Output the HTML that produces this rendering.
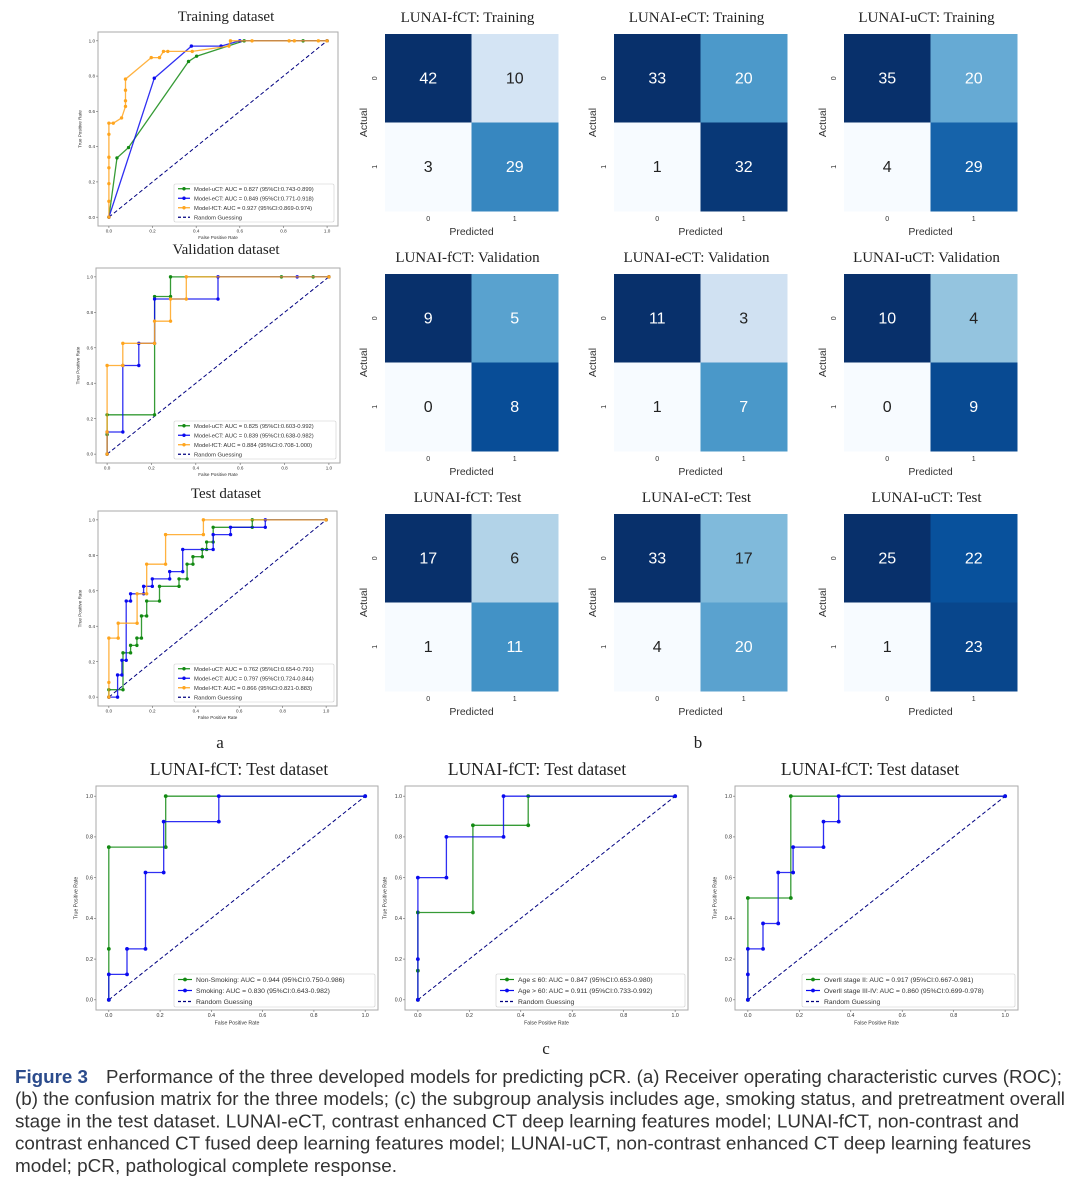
<!DOCTYPE html>
<html><head><meta charset="utf-8">
<style>
html,body{margin:0;padding:0;background:#fff;}
svg{display:block;}
</style></head>
<body>
<svg id="fig" width="1080" height="1186" viewBox="0 0 1080 1186" xmlns="http://www.w3.org/2000/svg" font-family="Liberation Sans, sans-serif"></svg>
<script>
// ---------- ROC data ----------
const trainUct_x=[0,0.037,0.09,0.365,0.402,0.62,0.89,1];
const trainUct_y=[0,0.336,0.395,0.883,0.913,1,1,1];
const trainEct_x=[0,0.208,0.378,0.514,0.60,1];
const trainEct_y=[0,0.788,0.97,0.97,1,1];
const trainFct_x=[0,0,0,0,0,0,0,0.02,0.058,0.076,0.076,0.076,0.076,0.194,0.232,0.25,0.27,0.382,0.55,0.557,0.656,0.826,0.85,0.96,1];
const trainFct_y=[0,0.09,0.19,0.28,0.34,0.47,0.533,0.533,0.563,0.628,0.66,0.72,0.783,0.905,0.905,0.94,0.94,0.94,0.97,1,1,1,1,1,1];

const valUct_x=[0,0,0,0.214,0.214,0.286,0.286,0.786,0.929,1];
const valUct_y=[0,0.111,0.222,0.222,0.889,0.889,1,1,1,1];
const valEct_x=[0,0,0.071,0.071,0.143,0.143,0.214,0.214,0.5,0.5,0.857,1];
const valEct_y=[0,0.125,0.125,0.5,0.5,0.625,0.625,0.875,0.875,1,1,1];
const valFct_x=[0,0,0,0.071,0.071,0.214,0.214,0.286,0.286,0.357,0.357,1];
const valFct_y=[0,0.125,0.5,0.5,0.625,0.625,0.75,0.75,0.875,0.875,1,1];

const testUct_x=[0,0,0.065,0.065,0.1,0.1,0.129,0.129,0.15,0.15,0.174,0.174,0.233,0.233,0.323,0.323,0.36,0.36,0.387,0.387,0.43,0.43,0.45,0.45,0.48,0.48,0.66,0.66,1];
const testUct_y=[0,0.042,0.042,0.25,0.25,0.292,0.292,0.333,0.333,0.458,0.458,0.542,0.542,0.625,0.625,0.667,0.667,0.75,0.75,0.792,0.792,0.833,0.833,0.875,0.875,0.958,0.958,1,1];
const testEct_x=[0,0.04,0.04,0.06,0.06,0.08,0.08,0.1,0.1,0.16,0.16,0.2,0.2,0.28,0.28,0.34,0.34,0.48,0.48,0.56,0.56,0.72,0.72,1];
const testEct_y=[0,0,0.125,0.125,0.208,0.208,0.542,0.542,0.583,0.583,0.625,0.625,0.667,0.667,0.708,0.708,0.833,0.833,0.917,0.917,0.958,0.958,1,1];
const testFct_x=[0,0,0,0.043,0.043,0.13,0.13,0.174,0.174,0.261,0.261,0.435,0.435,1];
const testFct_y=[0,0.083,0.333,0.333,0.417,0.417,0.583,0.583,0.75,0.75,0.917,0.917,1,1];

const smokNon_x=[0,0,0,0.222,0.222,1];
const smokNon_y=[0,0.25,0.75,0.75,1,1];
const smokYes_x=[0,0,0.071,0.071,0.143,0.143,0.214,0.214,0.429,0.429,1];
const smokYes_y=[0,0.125,0.125,0.25,0.25,0.625,0.625,0.875,0.875,1,1];
const ageLe_x=[0,0,0,0.214,0.214,0.429,0.429,1];
const ageLe_y=[0,0.143,0.429,0.429,0.857,0.857,1,1];
const ageGt_x=[0,0,0,0.111,0.111,0.333,0.333,1];
const ageGt_y=[0,0.2,0.6,0.6,0.8,0.8,1,1];
const stage2_x=[0,0,0.167,0.167,1];
const stage2_y=[0,0.5,0.5,1,1];
const stage34_x=[0,0,0,0.059,0.059,0.118,0.118,0.176,0.176,0.294,0.294,0.353,0.353,1];
const stage34_y=[0,0.125,0.25,0.25,0.375,0.375,0.625,0.625,0.75,0.75,0.875,0.875,1,1];

const legTrain=["Model-uCT: AUC = 0.827 (95%CI:0.743-0.899)","Model-eCT: AUC = 0.849 (95%CI:0.771-0.918)","Model-fCT: AUC = 0.927 (95%CI:0.869-0.974)"];
const legVal=["Model-uCT: AUC = 0.825 (95%CI:0.603-0.992)","Model-eCT: AUC = 0.839 (95%CI:0.638-0.982)","Model-fCT: AUC = 0.884 (95%CI:0.708-1.000)"];
const legTest=["Model-uCT: AUC = 0.762 (95%CI:0.654-0.791)","Model-eCT: AUC = 0.797 (95%CI:0.724-0.844)","Model-fCT: AUC = 0.866 (95%CI:0.821-0.883)"];
const legSmok=["Non-Smoking: AUC = 0.944 (95%CI:0.750-0.986)","Smoking: AUC = 0.830 (95%CI:0.643-0.982)"];
const legAge=["Age \u2264 60: AUC = 0.847 (95%CI:0.653-0.980)","Age > 60: AUC = 0.911 (95%CI:0.733-0.992)"];
const legStage=["Overll stage II: AUC = 0.917 (95%CI:0.667-0.981)","Overll stage III-IV: AUC = 0.860 (95%CI:0.699-0.978)"];
const rocTicks=[0,0.2,0.4,0.6,0.8,1.0];
const rocTickLabels=["0.0","0.2","0.4","0.6","0.8","1.0"];

// ---------- Confusion matrix data ----------
const cmTitles=["LUNAI-fCT: Training","LUNAI-eCT: Training","LUNAI-uCT: Training",
"LUNAI-fCT: Validation","LUNAI-eCT: Validation","LUNAI-uCT: Validation",
"LUNAI-fCT: Test","LUNAI-eCT: Test","LUNAI-uCT: Test"];
const cmValues=[[42,10,3,29],[33,20,1,32],[35,20,4,29],
[9,5,0,8],[11,3,1,7],[10,4,0,9],
[17,6,1,11],[33,17,4,20],[25,22,1,23]];
const cmClassLabels=["0","1"];

const NS="http://www.w3.org/2000/svg";
const svg=document.getElementById('fig');
function el(tag,attrs,parent,text){const e=document.createElementNS(NS,tag);for(const k in attrs)e.setAttribute(k,attrs[k]);if(text!==undefined)e.textContent=text;(parent||svg).appendChild(e);return e;}

const GREEN="#138a13",BLUE="#0a0af0",ORANGE="#ffa51e";

function rocPanel(cfg){
  const g=el('g',{});
  
  
  const {L,R,T,B}=cfg;
  const w=R-L,h=B-T;
  const sx=v=>L+w*(v+0.05)/1.1, sy=v=>B-h*(v+0.05)/1.1;
  const t=el('text',{x:cfg.titleX,y:cfg.titleY,'text-anchor':'middle','font-family':'Liberation Serif, serif','font-size':cfg.titleSize,fill:'#222'},g,cfg.title);
  
  const fr=el('rect',{x:L,y:T,width:w,height:h,fill:'#fff',stroke:'#aaa','stroke-width':1},g);
  
  const fs=cfg.tickSize;
  rocTicks.forEach((v,i)=>{
    el('line',{x1:sx(v),x2:sx(v),y1:B,y2:B+2,stroke:'#666','stroke-width':0.6},g);
    const tx=el('text',{x:sx(v),y:B+2+fs,'text-anchor':'middle','font-size':fs,fill:'#333'},g,rocTickLabels[i]);
    
    el('line',{x1:L-2,x2:L,y1:sy(v),y2:sy(v),stroke:'#666','stroke-width':0.6},g);
    const ty=el('text',{x:L-3,y:sy(v)+fs*0.35,'text-anchor':'end','font-size':fs,fill:'#333'},g,rocTickLabels[i]);
    
  });
  const xl=el('text',{x:(L+R)/2,y:B+4+fs*2,'text-anchor':'middle','font-size':fs,fill:'#333'},g,'False Positive Rate');
  
  const yx=L-fs*3.6,yy=(T+B)/2;
  const yl=el('text',{x:yx,y:yy,'text-anchor':'middle','font-size':fs,fill:'#333',transform:`rotate(-90 ${yx} ${yy})`},g,'True Positive Rate');
  
  const d=el('line',{x1:sx(0),y1:sy(0),x2:sx(1),y2:sy(1),stroke:'#000080','stroke-width':1,'stroke-dasharray':'4,2.5'},g);
  
  cfg.series.forEach(s=>{
    const pts=s.x.map((v,i)=>sx(v).toFixed(1)+','+sy(s.y[i]).toFixed(1)).join(' ');
    const pl=el('polyline',{points:pts,fill:'none',stroke:s.c,'stroke-width':1.3,'stroke-opacity':0.85},g);
    
    s.x.forEach((v,i)=>{
      const c=el('circle',{cx:sx(v),cy:sy(s.y[i]),r:cfg.mr,fill:s.c},g);
      
    });
  });
  const lb=cfg.leg;
  const lg=el('g',{},g);
  
  el('rect',{x:lb.x,y:lb.y,width:lb.w,height:lb.h,fill:'#fff','fill-opacity':0.85,stroke:'#ccc','stroke-width':0.6,rx:1.5},lg);
  const items=cfg.series.map((s,i)=>({c:s.c,t:cfg.legText[i],dash:false}));
  items.push({c:'#000080',t:'Random Guessing',dash:true});
  const lh=lb.h/items.length;
  items.forEach((it,i)=>{
    const cy=lb.y+lh*(i+0.5);
    const e=el('g',{},lg);
    
    el('line',{x1:lb.x+4,x2:lb.x+4+lb.sw,y1:cy,y2:cy,stroke:it.c,'stroke-width':1.2,'stroke-dasharray':it.dash?'3,2':'none'},e);
    if(!it.dash) el('circle',{cx:lb.x+4+lb.sw/2,cy:cy,r:cfg.mr,fill:it.c},e);
    el('text',{x:lb.x+8+lb.sw,y:cy+lb.fs*0.35,'font-size':lb.fs,fill:'#333'},e,it.t);
  });
}

rocPanel({name:'roc-training',title:'Training dataset',titleX:226,titleY:21,titleSize:15,L:98,R:338,T:32,B:226,tickSize:4.6,mr:1.7,
  series:[{x:trainUct_x,y:trainUct_y,c:GREEN,name:'model-uct'},{x:trainEct_x,y:trainEct_y,c:BLUE,name:'model-ect'},{x:trainFct_x,y:trainFct_y,c:ORANGE,name:'model-fct'}],
  legText:legTrain,leg:{x:174,y:184,w:160,h:38,sw:12,fs:5.8}});
rocPanel({name:'roc-validation',title:'Validation dataset',titleX:226,titleY:254,titleSize:15,L:96,R:340,T:268,B:463,tickSize:4.6,mr:1.7,
  series:[{x:valUct_x,y:valUct_y,c:GREEN,name:'model-uct'},{x:valEct_x,y:valEct_y,c:BLUE,name:'model-ect'},{x:valFct_x,y:valFct_y,c:ORANGE,name:'model-fct'}],
  legText:legVal,leg:{x:174,y:421,w:162,h:38,sw:12,fs:5.8}});
rocPanel({name:'roc-test',title:'Test dataset',titleX:226,titleY:498,titleSize:15,L:98,R:337,T:511,B:706,tickSize:4.6,mr:1.7,
  series:[{x:testUct_x,y:testUct_y,c:GREEN,name:'model-uct'},{x:testEct_x,y:testEct_y,c:BLUE,name:'model-ect'},{x:testFct_x,y:testFct_y,c:ORANGE,name:'model-fct'}],
  legText:legTest,leg:{x:174,y:664,w:160,h:38,sw:12,fs:5.8}});

rocPanel({name:'roc-smoking',title:'LUNAI-fCT: Test dataset',titleX:239,titleY:775,titleSize:17.5,L:96,R:378,T:786,B:1010,tickSize:5.2,mr:1.9,
  series:[{x:smokNon_x,y:smokNon_y,c:GREEN,name:'non-smoking'},{x:smokYes_x,y:smokYes_y,c:BLUE,name:'smoking'}],
  legText:legSmok,leg:{x:174,y:974,w:201,h:33,sw:14,fs:6.8}});
rocPanel({name:'roc-age',title:'LUNAI-fCT: Test dataset',titleX:537,titleY:775,titleSize:17.5,L:405,R:688,T:786,B:1010,tickSize:5.2,mr:1.9,
  series:[{x:ageLe_x,y:ageLe_y,c:GREEN,name:'age-le-60'},{x:ageGt_x,y:ageGt_y,c:BLUE,name:'age-gt-60'}],
  legText:legAge,leg:{x:496,y:974,w:189,h:33,sw:14,fs:6.8}});
rocPanel({name:'roc-stage',title:'LUNAI-fCT: Test dataset',titleX:870,titleY:775,titleSize:17.5,L:735,R:1018,T:786,B:1010,tickSize:5.2,mr:1.9,
  series:[{x:stage2_x,y:stage2_y,c:GREEN,name:'stage-ii'},{x:stage34_x,y:stage34_y,c:BLUE,name:'stage-iii-iv'}],
  legText:legStage,leg:{x:802,y:974,w:213,h:33,sw:14,fs:6.8}});

// ---------- Confusion matrices ----------
const BLUES=["#f7fbff","#deebf7","#c6dbef","#9ecae1","#6baed6","#4292c6","#2171b5","#08519c","#08306b"];
function hex2rgb(h){return [1,3,5].map(i=>parseInt(h.substr(i,2),16));}
function blues(t){t=Math.max(0,Math.min(1,t));const p=t*(BLUES.length-1);const i=Math.min(BLUES.length-2,Math.floor(p));const f=p-i;
  const a=hex2rgb(BLUES[i]),b=hex2rgb(BLUES[i+1]);return 'rgb('+a.map((v,k)=>Math.round(v+(b[k]-v)*f)).join(',')+')';}
const cmColX=[385,614,844];
const cmRowY=[34,274,514];
const CW=86.5,CH=88.5;
cmValues.forEach((vals,k)=>{
  const X=cmColX[k%3],Y=cmRowY[Math.floor(k/3)];
  const g=el('g',{});
  
  const t=el('text',{x:X+CW-4,y:Y-12,'text-anchor':'middle','font-family':'Liberation Serif, serif','font-size':15,fill:'#222'},g,cmTitles[k]);
  
  const mn=Math.min(...vals),mx=Math.max(...vals);
  vals.forEach((v,i)=>{
    const r=Math.floor(i/2),c=i%2;const n=(v-mn)/(mx-mn||1);
    const cell=el('rect',{x:X+c*CW,y:Y+r*CH,width:CW+0.5,height:CH+0.5,fill:blues(n)},g);
    
    const tx=el('text',{x:X+c*CW+CW/2,y:Y+r*CH+CH/2+5,'text-anchor':'middle','font-size':16,fill:n>0.5?'#fff':'#222'},g,String(v));
    
  });
  cmClassLabels.forEach((lab,i)=>{
    const xt=el('text',{x:X+CW/2+i*CW,y:Y+2*CH+10,'text-anchor':'middle','font-size':7,fill:'#333'},g,lab);
    
    const yx=X-8,yy=Y+CH/2+i*CH;
    const yt=el('text',{x:yx,y:yy,'text-anchor':'middle','font-size':7,fill:'#333',transform:`rotate(-90 ${yx} ${yy})`},g,lab);
    
  });
  const pl=el('text',{x:X+CW,y:Y+2*CH+24,'text-anchor':'middle','font-size':10.5,fill:'#333'},g,'Predicted');
  
  const ax=X-18,ay=Y+CH;
  const al=el('text',{x:ax,y:ay,'text-anchor':'middle','font-size':10.5,fill:'#333',transform:`rotate(-90 ${ax} ${ay})`},g,'Actual');
  
});

[['a',220,748],['b',698,748],['c',546,1054]].forEach(p=>{
  const t=el('text',{x:p[1],y:p[2],'text-anchor':'middle','font-family':'Liberation Serif, serif','font-size':17,fill:'#222'},svg,p[0]);
  
});

const cap=[
 [null,"Performance of the three developed models for predicting pCR. (a) Receiver operating characteristic curves (ROC);",106,1062],
 ["","(b) the confusion matrix for the three models; (c) the subgroup analysis includes age, smoking status, and pretreatment overall",15,1065],
 ["","stage in the test dataset. LUNAI-eCT, contrast enhanced CT deep learning features model; LUNAI-fCT, non-contrast and",15,1019],
 ["","contrast enhanced CT fused deep learning features model; LUNAI-uCT, non-contrast enhanced CT deep learning features",15,1031],
 ["","model; pCR, pathological complete response.",15,397]
];
const capG=el('g',{});

el('text',{x:15,y:1083,'font-size':18,'font-weight':'bold',fill:'#2b4b8c',textLength:73,lengthAdjust:'spacingAndGlyphs'},capG,'Figure 3');
cap.forEach((c,i)=>{
  el('text',{x:c[2],y:1083+i*22.2,'font-size':18,fill:'#333',textLength:c[3]-c[2],lengthAdjust:'spacingAndGlyphs'},capG,c[1]);
});
</script>
</body></html>
